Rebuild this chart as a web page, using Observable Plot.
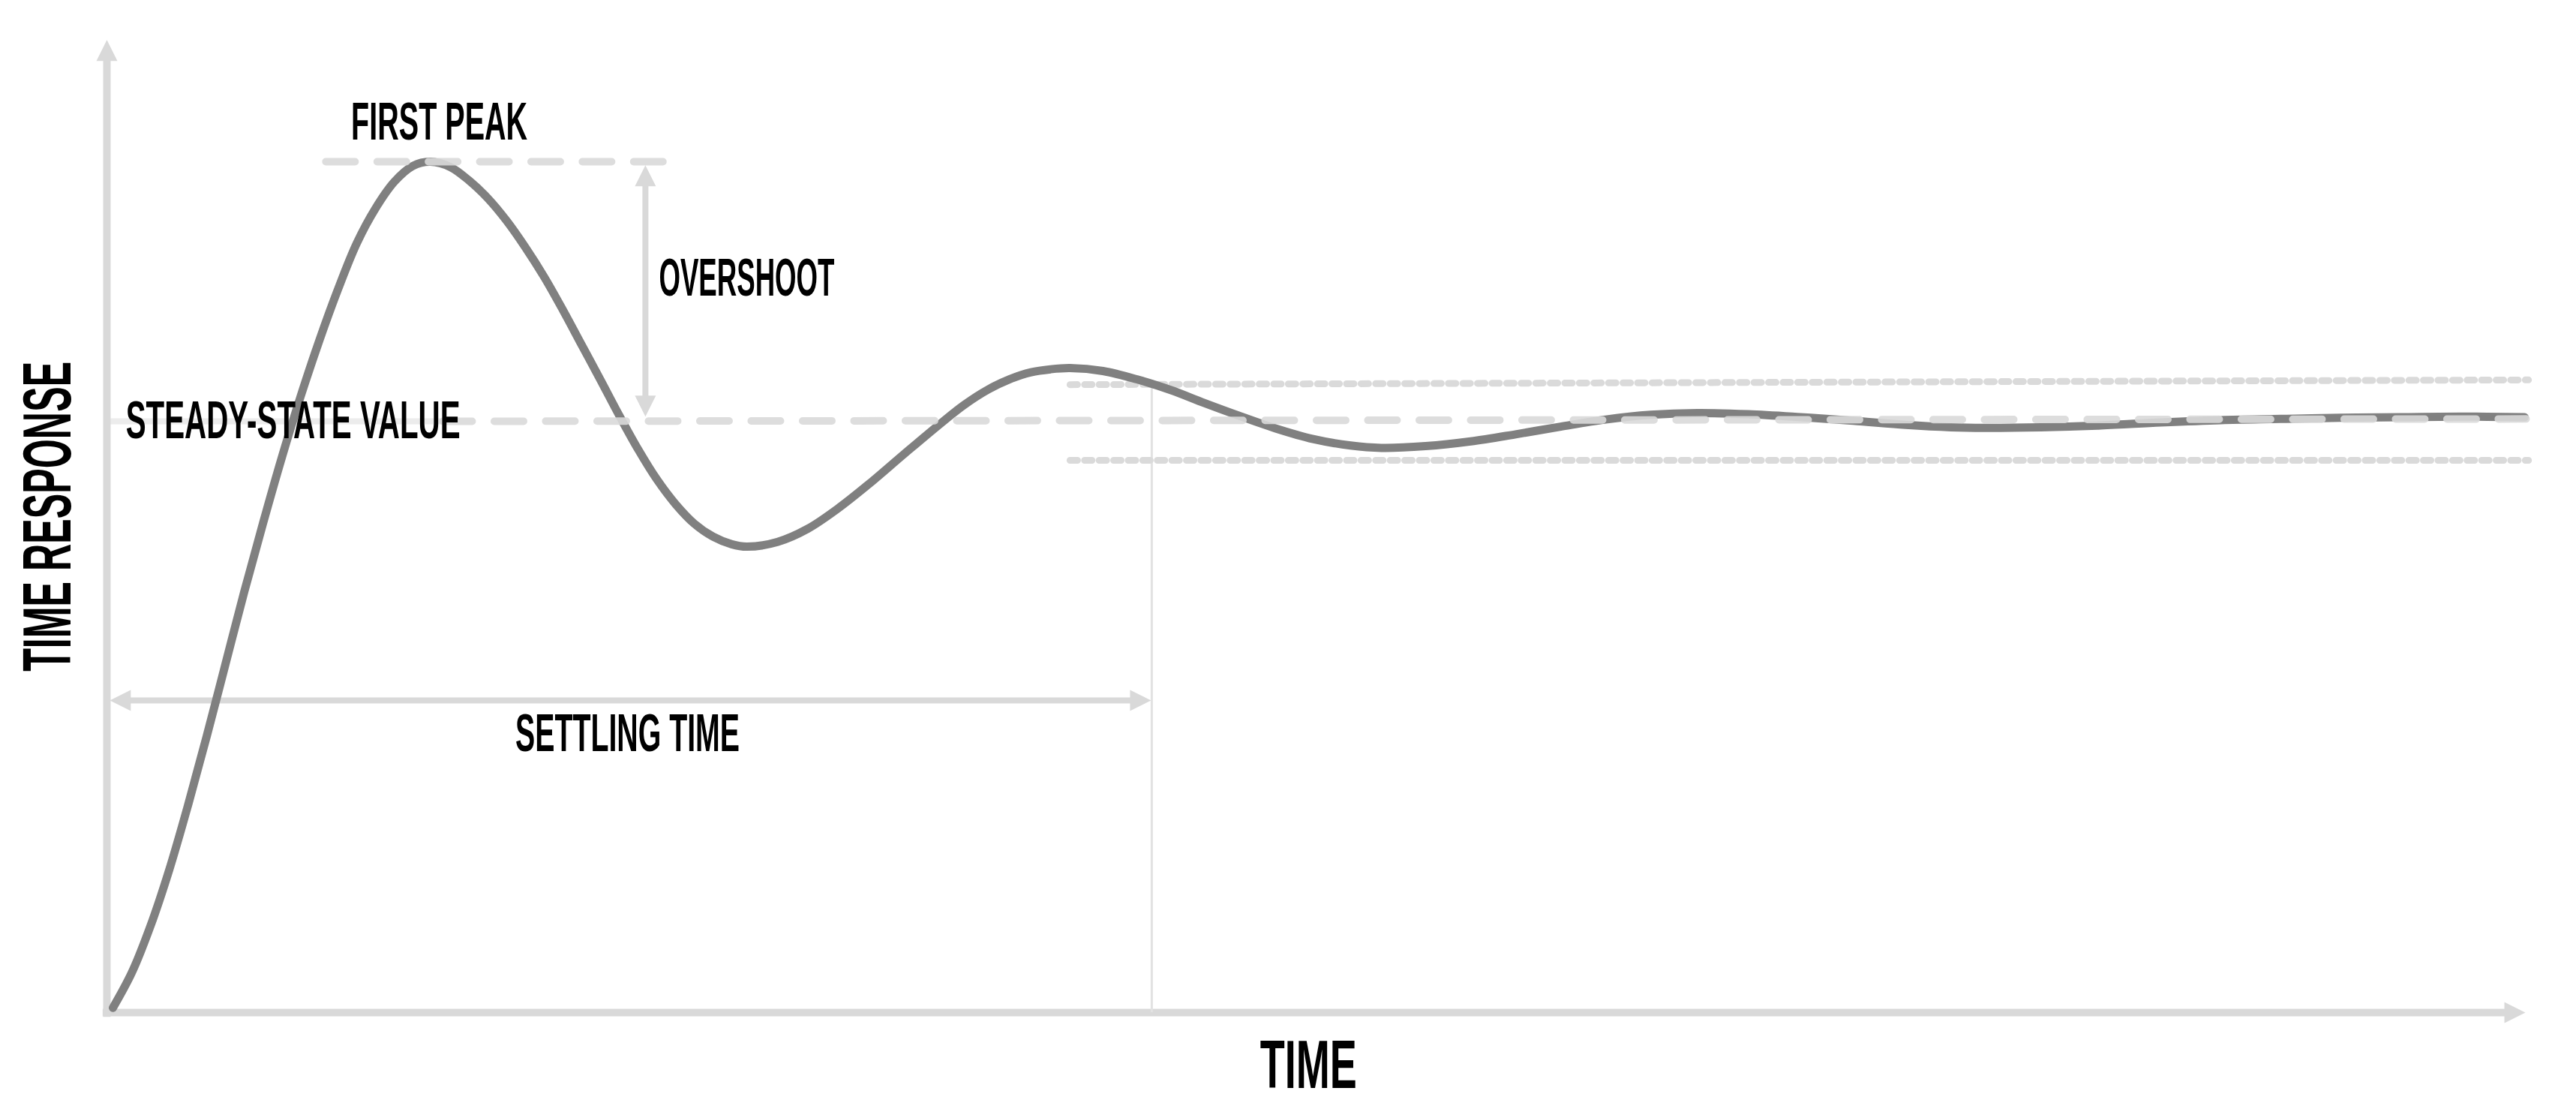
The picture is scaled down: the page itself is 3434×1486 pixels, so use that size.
<!DOCTYPE html>
<html>
<head>
<meta charset="utf-8">
<script src="https://cdn.jsdelivr.net/npm/d3@7"></script>
<script src="https://cdn.jsdelivr.net/npm/@observablehq/plot@0.6"></script>
<style>
  html, body { margin: 0; padding: 0; background: #fff; }
  #chart svg { display: block; }
</style>
</head>
<body>
<div id="chart"></div>
<script>
// ---- data ----
const time = [0.248,1.023,1.798,2.574,3.349,4.124,4.899,5.674,6.450,7.225,8.000,8.775,9.550,10.326,11.101,11.876,12.651,13.364,
  14.202,14.977,15.752,16.527,17.302,18.078,18.853,19.628,20.403,21.178,21.953,22.729,23.504,24.279,25.054,25.829,26.450,
  27.721,28.961,30.202,31.442,32.961,34.450,35.442,36.434,37.302,38.202,39.008,39.814,
  41.178,42.574,43.969,45.364,46.760,48.310,49.860,51.411,52.682,
  54.512,56.372,58.233,60.093,61.953,63.814,65.736,
  67.845,70.016,72.186,74.357,76.217,77.612,
  79.938,82.419,84.899,87.380,89.860,92.341,94.822,97.302,99.938];
const response = [0.008,0.067,0.146,0.241,0.350,0.467,0.589,0.711,0.827,0.938,1.041,1.136,1.223,1.301,1.360,1.405,1.432,1.439,
  1.430,1.407,1.377,1.339,1.294,1.244,1.188,1.129,1.070,1.010,0.953,0.902,0.860,0.827,0.805,0.792,0.788,
  0.796,0.818,0.852,0.892,0.945,0.996,1.028,1.054,1.071,1.083,1.088,1.090,
  1.085,1.071,1.053,1.031,1.010,0.988,0.970,0.959,0.955,
  0.958,0.966,0.978,0.991,1.003,1.011,1.014,
  1.012,1.007,1.001,0.994,0.990,0.989,
  0.990,0.993,0.998,1.002,1.004,1.006,1.007,1.008,1.007];

const steadyStateValue = [1.0, 1.004];     // left / right end of steady-state line
const steadyStart = [0.15, 13.89, 100];      // pale part start, dashed part start, end
const firstPeakValue = 1.439;
const firstPeakSpan = [9.05, 23.0];
const bandUpper = [1.062, 1.070];
const bandLower = [0.934, 0.934];
const bandSpan = [39.81, 100.1];
const settlingTime = 43.19;
const settlingArrowValue = 0.528;
const settlingArrowSpan = [0.12, 43.16];
const overshootTime = 22.26;
const overshootSpan = [1.008, 1.433];
const axisTop = 1.645;
const axisRight = 99.97;

const labels = ["FIRST PEAK", "OVERSHOOT", "STEADY-STATE VALUE", "SETTLING TIME"];
const labelTime = [13.74, 22.82, 0.78, 21.52];
const labelValue = [1.505, 1.241, 1.0, 0.471];
const labelAnchor = ["middle", "start", "start", "middle"];

const axisTitles = ["TIME", "TIME RESPONSE"];
const axisTitleTime = [49.67, -2.42];
const axisTitleValue = [-0.091, 0.839];
const axisTitleRotate = [0, -90];

// ---- tables built from the arrays ----
const curve = time.map((t, i) => ({t, v: response[i]}));
const labelData = labels.map((s, i) => ({s, t: labelTime[i], v: labelValue[i], a: labelAnchor[i]}));
const titleData = axisTitles.map((s, i) => ({s, t: axisTitleTime[i], v: axisTitleValue[i], r: axisTitleRotate[i]}));
const heads = [
  {t: 0, v: axisTop, angle: 0},
  {t: axisRight, v: 0, angle: 90},
  {t: overshootTime, v: overshootSpan[1], angle: 0},
  {t: overshootTime, v: overshootSpan[0], angle: 180},
  {t: settlingArrowSpan[0], v: settlingArrowValue, angle: -90},
  {t: settlingArrowSpan[1], v: settlingArrowValue, angle: 90}
];

const AX = "#d9d9d9";
const FONT = "'Liberation Sans Narrow', 'Liberation Sans', Arial, sans-serif";

const chart = Plot.plot({
  width: 3434,
  height: 1486,
  marginLeft: 142,
  marginRight: 67,
  marginTop: 48.8,
  marginBottom: 137,
  x: {domain: [0, 100], axis: null},
  y: {domain: [0, 1.65], axis: null},
  style: {background: "#fff", overflow: "visible"},
  marks: [
    // pale part of the steady-state line behind the label
    Plot.line([{t: steadyStart[0], v: steadyStateValue[0]}, {t: steadyStart[1], v: steadyStateValue[0]}],
      {x: "t", y: "v", stroke: "#ececec", strokeWidth: 8}),
    // axes
    Plot.ruleX([0], {y1: -0.008, y2: axisTop - 0.03, stroke: AX, strokeWidth: 10}),
    Plot.ruleY([0], {x1: -0.16, x2: axisRight - 0.6, stroke: AX, strokeWidth: 10}),
    // settling time vertical
    Plot.ruleX([settlingTime], {y1: 0, y2: bandUpper[0], stroke: "#e2e2e2", strokeWidth: 3}),
    // tolerance band
    Plot.line([{t: bandSpan[0], v: bandUpper[0]}, {t: bandSpan[1], v: bandUpper[1]}],
      {x: "t", y: "v", stroke: "#dadada", strokeWidth: 9, strokeDasharray: "10,9.4"}),
    Plot.line([{t: bandSpan[0], v: bandLower[0]}, {t: bandSpan[1], v: bandLower[1]}],
      {x: "t", y: "v", stroke: "#dadada", strokeWidth: 9, strokeDasharray: "10,9.4"}),
    // arrow shafts
    Plot.ruleX([overshootTime], {y1: overshootSpan[0] + 0.02, y2: overshootSpan[1] - 0.02, stroke: AX, strokeWidth: 8}),
    Plot.ruleY([settlingArrowValue], {x1: settlingArrowSpan[0] + 0.5, x2: settlingArrowSpan[1] - 0.5, stroke: AX, strokeWidth: 8}),
    // response curve
    Plot.line(curve, {x: "t", y: "v", stroke: "#808080", strokeWidth: 11, curve: "catmull-rom", strokeLinecap: "round", strokeLinejoin: "round"}),
    // dashed reference lines (drawn over the curve)
    Plot.line([{t: steadyStart[1], v: steadyStateValue[0]}, {t: steadyStart[2], v: steadyStateValue[1]}],
      {x: "t", y: "v", stroke: AX, strokeWidth: 10, strokeDasharray: "39,29.5", strokeOpacity: 0.9}),
    Plot.line([{t: firstPeakSpan[0], v: firstPeakValue}, {t: firstPeakSpan[1], v: firstPeakValue}],
      {x: "t", y: "v", stroke: AX, strokeWidth: 10, strokeDasharray: "39,29.4", strokeOpacity: 0.9}),
    // arrow heads
    Plot.vector(heads, {x: "t", y: "v", rotate: "angle", length: 28, r: 14, shape: "spike", anchor: "end", fill: AX, stroke: "none"}),
    // labels
    Plot.text(labelData, {x: "t", y: "v", text: "s", textAnchor: "start", filter: d => d.a === "start",
      fontFamily: FONT, fontWeight: "bold", fontSize: 70, fill: "#000"}),
    Plot.text(labelData, {x: "t", y: "v", text: "s", textAnchor: "middle", filter: d => d.a === "middle",
      fontFamily: FONT, fontWeight: "bold", fontSize: 71, fill: "#000"}),
    Plot.text(titleData, {x: "t", y: "v", text: "s", rotate: "r",
      fontFamily: FONT, fontWeight: "bold", fontSize: 91, fill: "#000"})
  ]
});

// condensed lettering: fit each label to its width in the reference
const textWidths = new Map([
  ["FIRST PEAK", 235], ["OVERSHOOT", 234], ["STEADY-STATE VALUE", 446],
  ["SETTLING TIME", 299], ["TIME", 129], ["TIME RESPONSE", 413]
]);
d3.select(chart).selectAll("text").each(function() {
  const w = textWidths.get(this.textContent);
  if (w) {
    this.setAttribute("textLength", w);
    this.setAttribute("lengthAdjust", "spacingAndGlyphs");
  }
});

document.getElementById("chart").appendChild(chart);
</script>
</body>
</html>
